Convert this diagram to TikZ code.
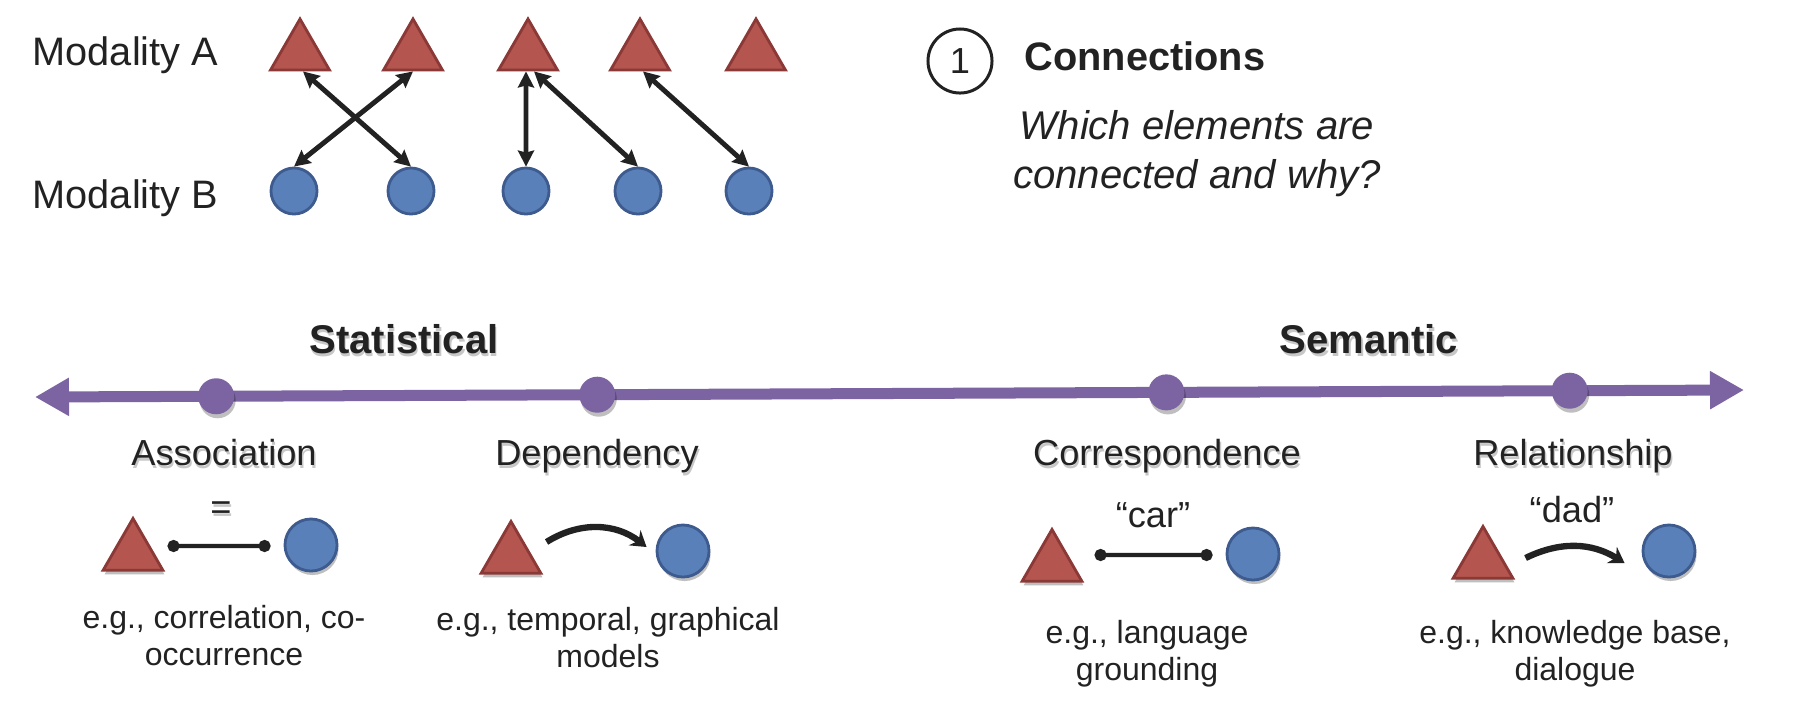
\documentclass[tikz,border=0pt]{standalone}
\usepackage{fontspec}
\setmainfont{Liberation Sans}
\usetikzlibrary{calc,shapes.geometric,arrows.meta,shadows}

\definecolor{trifill}{HTML}{B5554F}
\definecolor{triline}{HTML}{8A3936}
\definecolor{circfill}{HTML}{5A80B9}
\definecolor{circline}{HTML}{3D5B8E}
\definecolor{axispurple}{HTML}{7C63A1}
\definecolor{ink}{HTML}{222222}

\newcommand{\softshadow}[1]{\leavevmode\rlap{\kern0.4pt\raisebox{-0.9pt}{\textcolor{black!22}{#1}}}#1}

\begin{document}
\begin{tikzpicture}[x=0.01cm, y=-0.01cm,
  tri/.style={regular polygon, regular polygon sides=3, minimum size=0.68cm, inner sep=0pt,
    fill=trifill, draw=triline, line width=0.8pt},
  circ/.style={circle, minimum size=0.46cm, inner sep=0pt, fill=circfill, draw=circline, line width=0.8pt},
  lift/.style={drop shadow={shadow xshift=0.015cm, shadow yshift=-0.04cm, opacity=0.25, fill=black}},
  link/.style={draw=ink, line width=1.4pt,
    {Stealth[length=0.16cm,width=0.16cm,inset=0.02cm]}-{Stealth[length=0.16cm,width=0.16cm,inset=0.02cm]}},
  tie/.style={draw=ink, line width=1.2pt, {Circle[length=0.12cm]}-{Circle[length=0.12cm]}},
  flow/.style={draw=ink, line width=1.8pt, -{Stealth[length=0.15cm,width=0.19cm]}},
  axis/.style={draw=axispurple, line width=0.11cm,
    {Triangle[length=0.34cm,width=0.36cm]}-{Triangle[length=0.34cm,width=0.36cm]}},
  dot/.style={circle, fill=axispurple, minimum size=0.36cm, inner sep=0pt, lift},
  lbl/.style={font=\fontsize{11.3}{13}\selectfont, text=ink, inner sep=0pt},
  head/.style={font=\fontsize{11.3}{13}\selectfont\bfseries, text=ink, inner sep=0pt},
  big/.style={font=\fontsize{11.4}{13}\selectfont\bfseries, text=ink, inner sep=0pt},
  kind/.style={font=\fontsize{10.3}{12}\selectfont, text=ink, inner sep=0pt},
  ques/.style={font=\fontsize{11.4}{13.7}\selectfont\itshape, text=ink, inner sep=0pt, align=center},
  note/.style={font=\fontsize{9.1}{10.5}\selectfont, text=ink, inner sep=0pt, align=center},
  num/.style={circle, draw=ink, line width=0.85pt, minimum size=0.64cm, inner sep=0pt,
    font=\fontsize{10.3}{12}\selectfont, text=ink}]
  \useasboundingbox (0,0) rectangle (1802,702);

  % modalities
  \node[lbl, anchor=base west] (modA) at (32,65) {Modality A};
  \node[lbl, anchor=base west] (modB) at (32,208) {Modality B};

  \node[tri] (a1) at (300,53) {};
  \node[tri] (a2) at (413,53) {};
  \node[tri] (a3) at (528,53) {};
  \node[tri] (a4) at (640,53) {};
  \node[tri] (a5) at (756,53) {};

  \node[circ] (b1) at (294,191) {};
  \node[circ] (b2) at (411,191) {};
  \node[circ] (b3) at (526,191) {};
  \node[circ] (b4) at (638,191) {};
  \node[circ] (b5) at (749,191) {};

  \draw[link] ([xshift=0.03cm]a1.south) -- (b2.north);
  \draw[link] (a2.south) -- (b1.north);
  \draw[link] ([xshift=-0.02cm]a3.south) -- (b3.north);
  \draw[link] ([xshift=0.06cm]a3.south) -- (b4.north);
  \draw[link] ([xshift=0.03cm]a4.south) -- (b5.north);

  % title
  \node[num] (n1) at (960,61) {1};
  \node[head, anchor=base west] (conn) at (1024,70) {Connections};
  \node[ques, anchor=base] (why) at (1197,188) {Which elements are\\connected and why?};

  % axis
  \node[big, anchor=base] (stat) at (404,353) {\softshadow{Statistical}};
  \node[big, anchor=base] (sem) at (1369,353) {\softshadow{Semantic}};

  \coordinate (axL) at (35,397);
  \coordinate (axR) at (1744,390);
  \draw[axis] (axL) -- (axR)
    node[dot, pos=0.106] (d1) {}
    node[dot, pos=0.329] (d2) {}
    node[dot, pos=0.662] (d3) {}
    node[dot, pos=0.898] (d4) {};

  \node[kind, anchor=base] (assoc) at (224,465) {\softshadow{Association}};
  \node[kind, anchor=base] (dep) at (597,465) {\softshadow{Dependency}};
  \node[kind, anchor=base] (corr) at (1167,465) {\softshadow{Correspondence}};
  \node[kind, anchor=base] (rel) at (1573,465) {\softshadow{Relationship}};

  % association
  \node[tri, lift, minimum size=0.69cm] (at) at (133,553) {};
  \node[circ, lift, minimum size=0.52cm] (ac) at (311,545) {};
  \draw[tie] ([xshift=0.13cm,yshift=0.07cm]at.east) -- ([xshift=-0.13cm,yshift=-0.01cm]ac.west);
  \node[kind] (eq) at (221,512) {\softshadow{=}};

  % dependency
  \node[tri, lift, minimum size=0.69cm] (dt) at (511,556) {};
  \node[circ, lift, minimum size=0.52cm] (dc) at (683,551) {};
  \draw[flow] ([xshift=0.14cm,yshift=0.14cm]dt.east) to[bend left=35] ([xshift=-0.09cm,yshift=0.04cm]dc.west);

  % correspondence
  \node[tri, lift, minimum size=0.69cm] (ct) at (1052,564) {};
  \node[circ, lift, minimum size=0.52cm] (cc) at (1253,554) {};
  \draw[tie] ([xshift=0.21cm,yshift=0.09cm]ct.east) -- ([xshift=-0.13cm,yshift=-0.01cm]cc.west);
  \node[kind, anchor=base] (car) at (1153,527) {“car”};

  % relationship
  \node[tri, lift, minimum size=0.69cm] (rt) at (1483,561) {};
  \node[circ, lift, minimum size=0.52cm] (rc) at (1669,551) {};
  \draw[flow] ([xshift=0.21cm,yshift=0.03cm]rt.east) to[bend left=29] ([xshift=-0.17cm,yshift=-0.12cm]rc.west);
  \node[kind, anchor=base] (dad) at (1572,522) {“dad”};

  % examples
  \node[note, anchor=base] (assocEx) at (224,665) {e.g., correlation, co-\\occurrence};
  \node[note, anchor=base] (depEx) at (608,667) {e.g., temporal, graphical\\models};
  \node[note, anchor=base] (corrEx) at (1147,680) {e.g., language\\grounding};
  \node[note, anchor=base] (relEx) at (1575,680) {e.g., knowledge base,\\dialogue};
\end{tikzpicture}
\end{document}
